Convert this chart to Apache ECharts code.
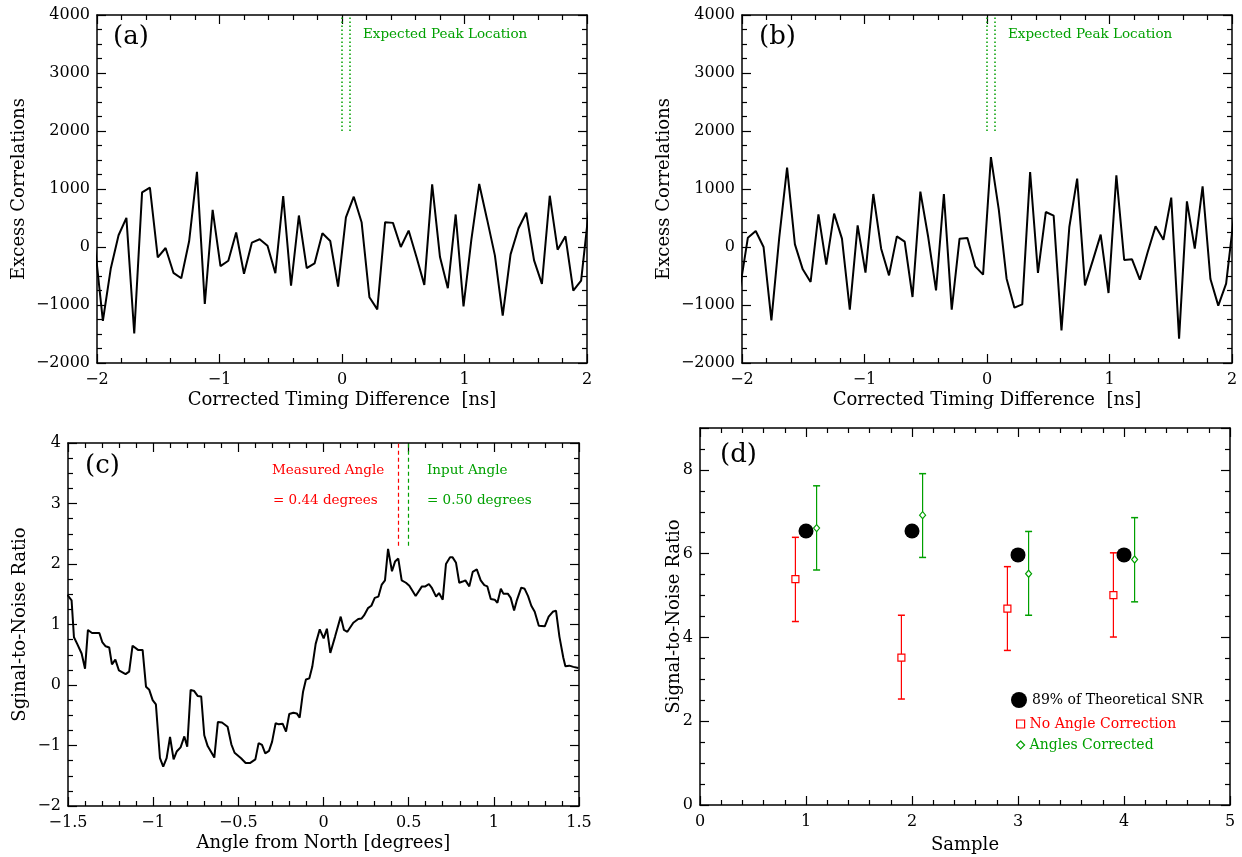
<!DOCTYPE html>
<html><head><meta charset="utf-8">
<script src="https://cdn.jsdelivr.net/npm/echarts@6/dist/echarts.min.js"></script>
<style>html,body{margin:0;padding:0;background:#fff}#c{width:1242px;height:857px}</style>
</head><body><div id="c"></div><script>
// ---------- DATA ----------
// Panels (a)/(b): bin centres [ns]
const binCentres = [-2.016,-1.952,-1.888,-1.824,-1.760,-1.696,-1.632,-1.568,-1.504,-1.440,-1.376,-1.312,-1.248,-1.184,-1.120,-1.056,
 -0.992,-0.928,-0.864,-0.800,-0.736,-0.672,-0.608,-0.544,-0.480,-0.416,-0.352,-0.288,-0.224,-0.160,-0.096,-0.032,
 0.032,0.096,0.160,0.224,0.288,0.352,0.416,0.480,0.544,0.608,0.672,0.736,0.800,0.864,0.928,0.992,
 1.056,1.120,1.184,1.248,1.312,1.376,1.440,1.504,1.568,1.632,1.696,1.760,1.824,1.888,1.952,2.016];
const excessA = [0,-1272,-376,202,503,-1491,942,1023,-179,-17,-445,-538,98,1295,-983,642,
 -329,-237,249,-462,75,133,23,-451,879,-665,543,-364,-283,237,104,-682,
 509,867,428,-867,-1075,428,416,0,283,-173,-653,1081,-173,-711,561,-1023,
 127,1087,480,-145,-1185,-127,318,590,-231,-636,884,-46,185,-751,-578,655];
const excessB = [-697,161,276,0,-1264,161,1368,46,-385,-603,563,-305,575,144,-1080,374,
 -443,914,-29,-489,184,92,-862,954,172,-747,914,-1080,144,155,-333,-477,
 1550,650,-546,-1046,-989,1293,-448,603,540,-1437,345,1178,-661,-230,213,-793,
 1236,-224,-213,-563,-86,356,126,851,-1580,787,-29,1046,-552,-1011,-632,532];
const expectedPeakX = [0, 0.064];
const expectedPeakY = [2000, 4000];

// Panel (c): angle from north [deg] vs SNR
const angleDeg = [-1.504,-1.479,-1.465,-1.446,-1.42,-1.40,-1.383,-1.359,-1.316,-1.299,
 -1.279,-1.258,-1.242,-1.222,-1.201,-1.162,-1.141,-1.121,-1.089,-1.062,
 -1.042,-1.023,-1.003,-0.984,-0.960,-0.941,-0.921,-0.901,-0.880,-0.862,
 -0.839,-0.817,-0.800,-0.780,-0.759,-0.739,-0.718,-0.700,-0.680,-0.657,
 -0.641,-0.620,-0.596,-0.563,-0.541,-0.522,-0.484,-0.457,-0.432,-0.400,
 -0.381,-0.361,-0.342,-0.320,-0.302,-0.281,-0.263,-0.240,-0.220,-0.201,
 -0.177,-0.157,-0.140,-0.120,-0.103,-0.083,-0.066,-0.046,-0.022,0.001,
 0.020,0.040,0.068,0.101,0.120,0.140,0.175,0.204,0.224,0.238,
 0.261,0.281,0.301,0.322,0.342,0.361,0.379,0.402,0.420,0.439,
 0.459,0.484,0.504,0.541,0.578,0.598,0.619,0.637,0.661,0.678,
 0.700,0.719,0.743,0.758,0.778,0.797,0.817,0.833,0.856,0.876,
 0.900,0.923,0.944,0.962,0.982,1.005,1.021,1.041,1.056,1.082,
 1.099,1.119,1.134,1.161,1.181,1.201,1.220,1.240,1.264,1.299,
 1.322,1.346,1.365,1.385,1.408,1.420,1.443,1.467,1.496];
const snrAngle = [1.49,1.40,0.79,0.68,0.52,0.27,0.91,0.86,0.86,0.71,
 0.64,0.62,0.34,0.42,0.24,0.18,0.22,0.65,0.58,0.58,
 -0.03,-0.08,-0.25,-0.32,-1.21,-1.35,-1.21,-0.86,-1.23,-1.10,
 -1.03,-0.85,-1.02,-0.08,-0.10,-0.18,-0.19,-0.83,-1.01,-1.12,
 -1.20,-0.61,-0.62,-0.69,-0.98,-1.12,-1.21,-1.29,-1.29,-1.23,
 -0.96,-0.99,-1.13,-1.09,-0.94,-0.63,-0.65,-0.64,-0.77,-0.48,
 -0.46,-0.47,-0.54,-0.11,0.09,0.11,0.30,0.68,0.92,0.77,
 0.93,0.53,0.80,1.13,0.91,0.88,1.03,1.09,1.10,1.15,
 1.27,1.31,1.44,1.46,1.66,1.73,2.25,1.88,2.04,2.09,
 1.73,1.69,1.64,1.47,1.63,1.63,1.67,1.60,1.46,1.52,
 1.41,2.00,2.11,2.11,2.02,1.69,1.71,1.73,1.63,1.87,
 1.91,1.73,1.65,1.63,1.42,1.41,1.36,1.59,1.51,1.51,
 1.44,1.23,1.39,1.61,1.59,1.47,1.31,1.21,0.98,0.97,
 1.13,1.21,1.23,0.80,0.45,0.31,0.32,0.30,0.28];
const measuredAngle = 0.44, inputAngle = 0.50;
const angleMarkY = [2.3, 4];

// Panel (d)
const samples = [1, 2, 3, 4];
const theorySNR = [6.54, 6.54, 5.97, 5.97];
const noCorrSNR = [5.39, 3.52, 4.69, 5.01];
const noCorrLo  = [4.38, 2.53, 3.69, 4.01];
const noCorrHi  = [6.39, 4.53, 5.69, 6.02];
const corrSNR   = [6.61, 6.92, 5.52, 5.86];
const corrLo    = [5.61, 5.91, 4.53, 4.85];
const corrHi    = [7.62, 7.91, 6.53, 6.86];

// ---------- STYLE / LAYOUT ----------
const FONT = 'DejaVu Serif';
const GREEN = '#00a000', RED = '#ff0000';
const minus = v => String(v).replace('-', '\u2212');

function axis(gi, pos, min, max, interval, minor, labels, name, gap) {
  return {
    type: 'value', gridIndex: gi, position: pos, min, max, interval,
    axisLine: {show: true, onZero: false, lineStyle: {color: '#000', width: 1.5}},
    axisTick: {show: true, inside: true, length: 9, lineStyle: {color: '#000', width: 1.2}},
    minorTick: {show: true, splitNumber: minor, length: 5, lineStyle: {color: '#000', width: 1.2}},
    splitLine: {show: false}, minorSplitLine: {show: false},
    axisLabel: {show: labels, formatter: minus, fontFamily: FONT, fontSize: 16, color: '#000',
                margin: 9, showMinLabel: true, showMaxLabel: true},
    name: name || '', nameLocation: 'middle', nameGap: gap || 0, nameMoveOverlap: false,
    nameTextStyle: {fontFamily: FONT, fontSize: 18, color: '#000'}
  };
}

const grids = [
  {left: 97, top: 15, width: 490, height: 348},
  {left: 742, top: 15, width: 490, height: 348},
  {left: 68, top: 443, width: 511, height: 363},
  {left: 700, top: 428, width: 530, height: 377}
].map(g => Object.assign(g, {outerBoundsMode: 'none', containLabel: false}));

const xAxes = [
  axis(0, 'bottom', -2, 2, 1, 5, true, 'Corrected Timing Difference  [ns]', 28),
  axis(0, 'top', -2, 2, 1, 5, false),
  axis(1, 'bottom', -2, 2, 1, 5, true, 'Corrected Timing Difference  [ns]', 28),
  axis(1, 'top', -2, 2, 1, 5, false),
  axis(2, 'bottom', -1.5, 1.5, 0.5, 5, true, 'Angle from North [degrees]', 28),
  axis(2, 'top', -1.5, 1.5, 0.5, 5, false),
  axis(3, 'bottom', 0, 5, 1, 5, true, 'Sample', 31),
  axis(3, 'top', 0, 5, 1, 5, false)
];
const yAxes = [
  axis(0, 'left', -2000, 4000, 1000, 4, true, 'Excess Correlations', 69),
  axis(0, 'right', -2000, 4000, 1000, 4, false),
  axis(1, 'left', -2000, 4000, 1000, 4, true, 'Excess Correlations', 69),
  axis(1, 'right', -2000, 4000, 1000, 4, false),
  axis(2, 'left', -2, 4, 1, 4, true, 'Sginal-to-Noise Ratio', 39),
  axis(2, 'right', -2, 4, 1, 4, false),
  axis(3, 'left', 0, 9, 2, 4, true, 'Signal-to-Noise Ratio', 17),
  axis(3, 'right', 0, 9, 2, 4, false)
];
yAxes[6].axisLabel.showMaxLabel = false;
yAxes.forEach(a => { a.axisLabel.margin = 7; });

function peakMarks() {
  return {
    silent: true, symbol: 'none', animation: false,
    label: {show: false},
    lineStyle: {color: GREEN, type: [1.5, 2.5], width: 1.5},
    data: expectedPeakX.map(x => [{coord: [x, expectedPeakY[0]]}, {coord: [x, expectedPeakY[1]]}])
  };
}

function errRender(color) {
  return function (params, api) {
    const x = api.value(0), lo = api.value(1), hi = api.value(2);
    const p1 = api.coord([x, lo]), p2 = api.coord([x, hi]);
    const cap = 3.5;
    return {type: 'group', children: [
      {type: 'line', shape: {x1: p1[0], y1: p1[1], x2: p2[0], y2: p2[1]}, style: {stroke: color, lineWidth: 1.2}},
      {type: 'line', shape: {x1: p1[0] - cap, y1: p1[1], x2: p1[0] + cap, y2: p1[1]}, style: {stroke: color, lineWidth: 1.5}},
      {type: 'line', shape: {x1: p2[0] - cap, y1: p2[1], x2: p2[0] + cap, y2: p2[1]}, style: {stroke: color, lineWidth: 1.5}}
    ]};
  };
}
const OFF = 0.1;

const series = [
  {type: 'line', name: 'a', xAxisIndex: 0, yAxisIndex: 0, symbol: 'none', clip: true,
   data: binCentres.map((x, i) => [x, excessA[i]]), lineStyle: {color: '#000', width: 2},
   markLine: peakMarks()},
  {type: 'line', name: 'b', xAxisIndex: 2, yAxisIndex: 2, symbol: 'none', clip: true,
   data: binCentres.map((x, i) => [x, excessB[i]]), lineStyle: {color: '#000', width: 2},
   markLine: peakMarks()},
  {type: 'line', name: 'c', xAxisIndex: 4, yAxisIndex: 4, symbol: 'none', clip: true,
   data: angleDeg.map((x, i) => [x, snrAngle[i]]), lineStyle: {color: '#000', width: 2},
   markLine: {silent: true, symbol: 'none', label: {show: false}, animation: false,
     data: [
       [{coord: [measuredAngle, angleMarkY[0]], lineStyle: {color: RED, type: [4, 3], width: 1.2}},
        {coord: [measuredAngle, angleMarkY[1]]}],
       [{coord: [inputAngle, angleMarkY[0]], lineStyle: {color: GREEN, type: [4, 3], width: 1.2}},
        {coord: [inputAngle, angleMarkY[1]]}]
     ]}},
  {type: 'custom', name: 'No Angle Correction', xAxisIndex: 6, yAxisIndex: 6, z: 2,
   renderItem: errRender(RED), encode: {x: 0, y: [1, 2]},
   data: samples.map((s, i) => [s - OFF, noCorrLo[i], noCorrHi[i]])},
  {type: 'custom', name: 'Angles Corrected', xAxisIndex: 6, yAxisIndex: 6, z: 2,
   renderItem: errRender(GREEN), encode: {x: 0, y: [1, 2]},
   data: samples.map((s, i) => [s + OFF, corrLo[i], corrHi[i]])},
  {type: 'scatter', name: '89% of Theoretical SNR', xAxisIndex: 6, yAxisIndex: 6, z: 3,
   symbol: 'circle', symbolSize: 15, itemStyle: {color: '#000', opacity: 1},
   data: samples.map((s, i) => [s, theorySNR[i]])},
  {type: 'scatter', name: 'No Angle Correction', xAxisIndex: 6, yAxisIndex: 6, z: 3,
   symbol: 'rect', symbolSize: 7, itemStyle: {color: '#fff', borderColor: RED, borderWidth: 1.2, opacity: 1},
   data: samples.map((s, i) => [s - OFF, noCorrSNR[i]])},
  {type: 'scatter', name: 'Angles Corrected', xAxisIndex: 6, yAxisIndex: 6, z: 3,
   symbol: 'diamond', symbolSize: [6, 7], itemStyle: {color: '#fff', borderColor: GREEN, borderWidth: 1.2, opacity: 1},
   data: samples.map((s, i) => [s + OFF, corrSNR[i]])}
];

const legendText = c => ({fontFamily: FONT, fontSize: 14, color: c});
const legends = [
  {left: 1011, top: 692, padding: 0, itemWidth: 16, itemHeight: 16, icon: 'circle', selectedMode: false,
   itemStyle: {color: '#000', opacity: 1}, data: ['89% of Theoretical SNR'], textStyle: legendText('#000')},
  {left: 1016, top: 717, padding: 0, itemWidth: 8, itemHeight: 8, icon: 'rect', selectedMode: false,
   itemStyle: {color: '#fff', borderColor: RED, borderWidth: 1.2, opacity: 1}, data: ['No Angle Correction'], textStyle: legendText(RED)},
  {left: 1016, top: 738, padding: 0, itemWidth: 8, itemHeight: 8, icon: 'diamond', selectedMode: false,
   itemStyle: {color: '#fff', borderColor: GREEN, borderWidth: 1.2, opacity: 1}, data: ['Angles Corrected'], textStyle: legendText(GREEN)}
];

const txt = (l, t, s, size, color) => ({type: 'text', left: l, top: t,
  style: {text: s, font: size + 'px "' + FONT + '"', fill: color}});
const graphic = [
  txt(113, 24, '(a)', 26, '#000'),
  txt(363, 27, 'Expected Peak Location', 13.5, GREEN),
  txt(759, 24, '(b)', 26, '#000'),
  txt(1008, 27, 'Expected Peak Location', 13.5, GREEN),
  txt(85, 453, '(c)', 26, '#000'),
  txt(272, 463, 'Measured Angle', 13.5, RED),
  txt(273, 493, '= 0.44 degrees', 13.5, RED),
  txt(427, 463, 'Input Angle', 13.5, GREEN),
  txt(427, 493, '= 0.50 degrees', 13.5, GREEN),
  txt(720, 442, '(d)', 26, '#000')
];

const chart = echarts.init(document.getElementById('c'), null, {renderer: 'canvas'});
chart.setOption({
  animation: false, backgroundColor: '#fff',
  grid: grids, xAxis: xAxes, yAxis: yAxes, series, legend: legends, graphic
});
</script></body></html>
